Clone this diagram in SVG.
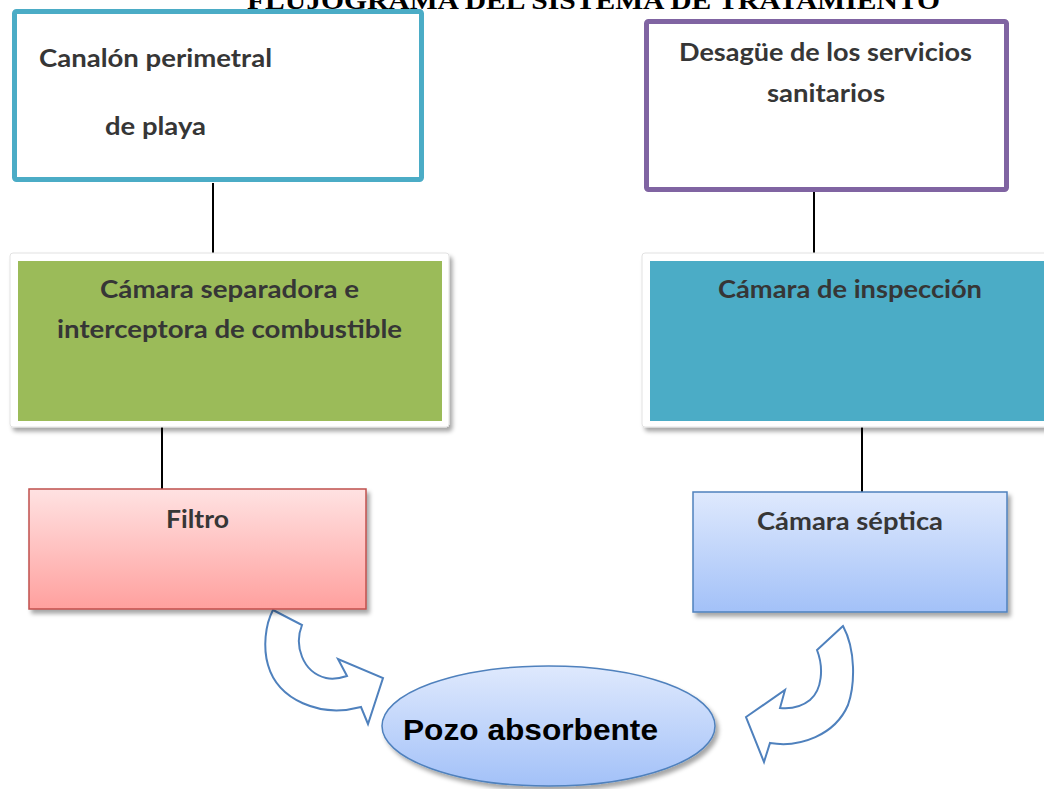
<svg xmlns="http://www.w3.org/2000/svg" width="1044" height="789" viewBox="0 0 1044 789">
<style>
.lbl{font-family:Lato,"Open Sans","Liberation Sans",sans-serif;font-weight:700;font-size:25px;fill:#363636}
.conn{stroke:#000;stroke-width:2;fill:none}
.uarrow{fill:#fff;stroke:#4F81BD;stroke-width:2;stroke-linejoin:miter}
.frame{fill:#fff;stroke:#e2e2e2;stroke-width:1}
</style>
<defs>
<filter id="sh" x="-10%" y="-10%" width="125%" height="135%">
<feDropShadow dx="3" dy="4" stdDeviation="2" flood-color="#000" flood-opacity="0.35"/>
</filter>
<linearGradient id="gRed" x1="0" y1="0" x2="0" y2="1">
<stop offset="0" stop-color="#FFE2E2"/><stop offset="1" stop-color="#FFA09E"/>
</linearGradient>
<linearGradient id="gBlue" x1="0" y1="0" x2="0" y2="1">
<stop offset="0" stop-color="#DFE9FD"/><stop offset="1" stop-color="#A3C1F8"/>
</linearGradient>
</defs>
<rect width="1044" height="789" fill="#fff"/>
<text x="247" y="9" font-family="Liberation Serif,serif" font-weight="700" font-size="26" textLength="693" lengthAdjust="spacingAndGlyphs" fill="#000">FLUJOGRAMA DEL SISTEMA DE TRATAMIENTO</text>
<g id="connectors">
<line class="conn" x1="213" y1="183" x2="213" y2="253"/>
<line class="conn" x1="814" y1="170" x2="814" y2="253"/>
<line class="conn" x1="162" y1="426" x2="162" y2="489"/>
<line class="conn" x1="862" y1="426" x2="862" y2="492"/>
<path class="uarrow" d="M273,610 L302,625 C294,645 302,672 326,678 C334,680 341,678 347,676 L338,659 L383,678 L368,724 L361,707 C320,718 278,700 268,665 C263,648 265,625 273,610 Z"/>
<path class="uarrow" d="M843,626 L817,650 C824,668 822,690 810,700 C800,708 790,709 780,708 L785,690 L746,717 L764,762 L770,743 C800,748 835,735 848,705 C855,685 856,650 843,626 Z"/>
</g>
<g id="canalon">
<rect x="14.5" y="11.5" width="407" height="168" rx="2" fill="#fff" stroke="#4BACC6" stroke-width="5"/>
<text class="lbl" x="39" y="67" textLength="233" lengthAdjust="spacingAndGlyphs">Canalón perimetral</text>
<text class="lbl" x="105" y="135" textLength="101" lengthAdjust="spacingAndGlyphs">de playa</text>
</g>
<g id="desague">
<rect x="646.5" y="21.5" width="360" height="168" rx="2" fill="#fff" stroke="#8064A2" stroke-width="5"/>
<text class="lbl" x="679" y="61" textLength="293" lengthAdjust="spacingAndGlyphs">Desagüe de los servicios</text>
<text class="lbl" x="767" y="102" textLength="118" lengthAdjust="spacingAndGlyphs">sanitarios</text>
</g>
<g id="separadora">
<rect class="frame" x="10" y="253" width="439" height="174" rx="3" filter="url(#sh)"/>
<rect x="18" y="261" width="424" height="160" fill="#9BBB59"/>
<text class="lbl" x="100" y="298" textLength="259" lengthAdjust="spacingAndGlyphs">Cámara separadora e</text>
<text class="lbl" x="57" y="338" textLength="345" lengthAdjust="spacingAndGlyphs">interceptora de combustible</text>
</g>
<g id="inspeccion">
<rect class="frame" x="642" y="253" width="412" height="174" rx="3" filter="url(#sh)"/>
<rect x="650" y="261" width="400" height="160" fill="#4BACC6"/>
<text class="lbl" x="718" y="298" textLength="264" lengthAdjust="spacingAndGlyphs">Cámara de inspección</text>
</g>
<g id="filtro">
<rect x="29" y="489" width="337" height="120" fill="url(#gRed)" stroke="#C0504D" stroke-width="1.5" filter="url(#sh)"/>
<text class="lbl" x="166" y="528" textLength="63" lengthAdjust="spacingAndGlyphs">Filtro</text>
</g>
<g id="septica">
<rect x="693" y="492" width="314" height="120" fill="url(#gBlue)" stroke="#4F81BD" stroke-width="1.5" filter="url(#sh)"/>
<text class="lbl" x="757" y="530" textLength="186" lengthAdjust="spacingAndGlyphs">Cámara séptica</text>
</g>
<g id="pozo">
<ellipse cx="548.5" cy="726" rx="166.5" ry="60" fill="url(#gBlue)" stroke="#4F81BD" stroke-width="1.5" filter="url(#sh)"/>
<text x="403" y="740" font-family="Liberation Sans,Arial,sans-serif" font-weight="700" font-size="29" textLength="255" lengthAdjust="spacingAndGlyphs" fill="#000">Pozo absorbente</text>
</g>
</svg>
